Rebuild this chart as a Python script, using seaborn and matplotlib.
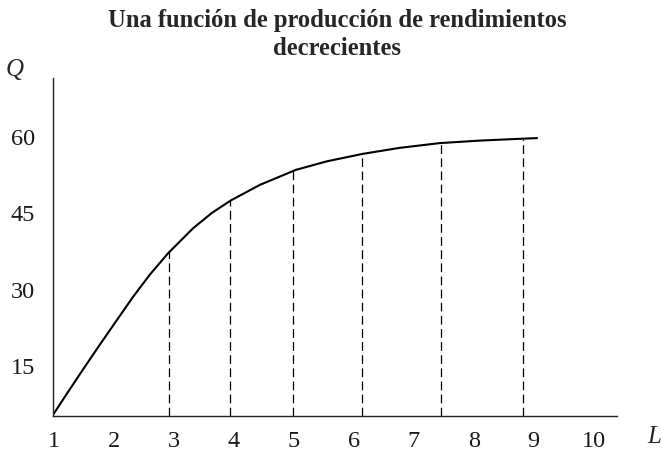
"""
Una función de producción de rendimientos decrecientes.
"""

import matplotlib
matplotlib.use("Agg")
import matplotlib.pyplot as plt
import seaborn as sns
import pandas as pd

# Curve (L = labour, Q = output)
L_curve = [0.972, 1.214, 1.481, 1.764, 2.048, 2.315, 2.599, 2.899, 3.316, 3.633,
           3.950, 4.434, 5.035, 5.552, 6.153, 6.770, 7.437, 8.105, 8.789, 9.056]
Q_curve = [5.18, 9.55, 14.27, 19.19, 24.02, 28.54, 32.97, 37.11, 42.03, 45.08,
           47.54, 50.59, 53.54, 55.22, 56.69, 57.87, 58.80, 59.29, 59.65, 59.78]

# Dashed guide lines (position on L and height where they meet the curve)
L_guides = [2.91, 3.93, 4.99, 6.14, 7.46, 8.82]
Q_guides = [37.3, 47.4, 53.3, 56.7, 58.8, 59.65]

x_ticks = [1, 2, 3, 4, 5, 6, 7, 8, 9, 10]
y_ticks = [15, 30, 45, 60]

title = "Una función de producción de rendimientos\ndecrecientes"


def setup_plot_style():
    sns.set_style("white")
    plt.rcParams["font.family"] = ["Liberation Serif", "DejaVu Serif"]


def main():
    setup_plot_style()

    fig = plt.figure(figsize=(6.63, 4.55), dpi=100)
    ax = fig.add_axes([52.5 / 663, 1 - 415.7 / 455, (617 - 52.5) / 663, (415.7 - 78) / 455])

    df = pd.DataFrame({"L": L_curve, "Q": Q_curve})
    sns.lineplot(data=df, x="L", y="Q", sort=False, color="black",
                 linewidth=1.5, ax=ax)

    y_min, y_max = 5.18, 71.6
    ax.vlines(L_guides, ymin=y_min, ymax=Q_guides, colors="black",
              linewidth=0.9, linestyles=(0, (7, 3.5)))

    ax.set_xlim(0.972, 10.39)
    ax.set_ylim(y_min, y_max)

    ax.set_xticks(x_ticks)
    ax.set_xticklabels([str(v) for v in x_ticks])
    ax.set_yticks(y_ticks)
    ax.set_yticklabels([str(v) for v in y_ticks])
    ax.tick_params(axis="both", length=0, labelsize=17.5, colors="#1a1a1a")
    ax.tick_params(axis="x", pad=11)
    ax.tick_params(axis="y", pad=12.5)

    ax.set_xlabel("")
    ax.set_ylabel("")

    for side in ["top", "right"]:
        ax.spines[side].set_visible(False)
    for side in ["left", "bottom"]:
        ax.spines[side].set_color("#222222")
        ax.spines[side].set_linewidth(1.0)

    fig.text(337 / 663, 1 - 9 / 455, title, ha="center", va="top",
             fontsize=17.7, fontweight="bold", linespacing=1.3)
    fig.text(15 / 663, 1 - 70 / 455, "Q", ha="center", va="center",
             fontsize=18, fontstyle="italic")
    fig.text(654 / 663, 1 - 437 / 455, "L", ha="center", va="center",
             fontsize=18, fontstyle="italic")

    fig.savefig("out.png", dpi=100)


if __name__ == "__main__":
    main()
